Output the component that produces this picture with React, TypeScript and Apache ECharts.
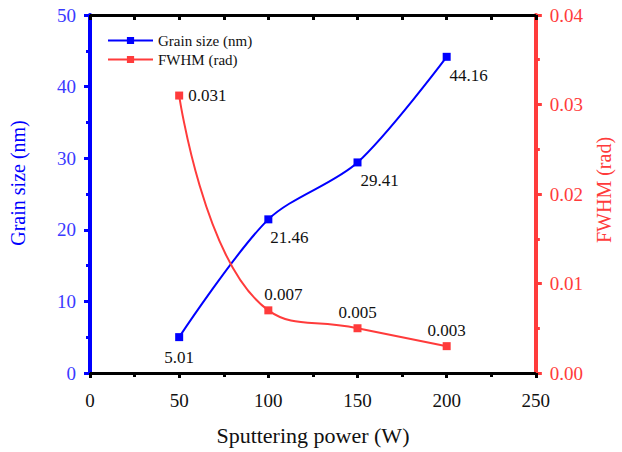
import React, { useEffect, useRef } from "react";
import * as echarts from "echarts";

const powers = [50, 100, 150, 200];
const grainSize = [5.01, 21.46, 29.41, 44.16];
const fwhm = [0.031, 0.007, 0.005, 0.003];
const grainLabels = ["5.01", "21.46", "29.41", "44.16"];
const fwhmLabels = ["0.031", "0.007", "0.005", "0.003"];

const FONT = "'Times New Roman', 'Liberation Serif', 'DejaVu Serif', serif";
const BLUE = "#0000ff";
const RED = "#ff3b3b";

export default function App() {
  const ref = useRef<HTMLDivElement>(null);
  useEffect(() => {
    if (!ref.current) return;
    const chart = echarts.init(ref.current, null, { renderer: "svg" });
    const grainOffsets: [number, number][] = [[0, 2], [21, 0], [22, 0], [22, 0]];
    const fwhmPos = ["right", "top", "top", "top"];
    const fwhmOffsets: [number, number][] = [[0, 0], [15, 0], [0, 0], [0, 0]];
    chart.setOption({
      animation: false,
      textStyle: { fontFamily: FONT },
      grid: { left: 86, right: 76, top: 15, bottom: 79, containLabel: false },
      legend: {
        left: 107,
        top: 33,
        padding: 0,
        orient: "vertical",
        itemWidth: 45,
        itemHeight: 9,
        itemGap: 4,
        textStyle: { fontFamily: FONT, fontSize: 15, color: "#111" },
        data: ["Grain size (nm)", "FWHM (rad)"],
      },
      xAxis: [
        {
          type: "value",
          min: 0,
          max: 250,
          interval: 50,
          position: "bottom",
          name: "Sputtering power (W)",
          nameLocation: "middle",
          nameGap: 51,
          nameTextStyle: { fontFamily: FONT, fontSize: 22, color: "#111" },
          axisLine: { show: true, onZero: false, lineStyle: { color: "#000", width: 3 } },
          axisTick: { show: true, inside: false, length: 5, lineStyle: { color: "#000", width: 3 } },
          minorTick: { show: true, splitNumber: 2, length: 4, lineStyle: { color: "#000", width: 3 } },
          axisLabel: { fontFamily: FONT, fontSize: 19, color: "#111", margin: 18 },
          splitLine: { show: false },
        },
        {
          type: "value",
          min: 0,
          max: 250,
          interval: 25,
          position: "top",
          axisLine: { show: true, onZero: false, lineStyle: { color: "#000", width: 3 } },
          axisTick: { show: true, inside: true, length: 5, lineStyle: { color: "#000", width: 3 } },
          axisLabel: { show: false },
          splitLine: { show: false },
        },
      ],
      yAxis: [
        {
          type: "value",
          min: 0,
          max: 50,
          interval: 10,
          position: "left",
          name: "Grain size (nm)",
          nameLocation: "middle",
          nameGap: 62,
          nameTextStyle: { fontFamily: FONT, fontSize: 20, color: BLUE, padding: [0, 0, 0, 22] },
          axisLine: { show: true, onZero: false, lineStyle: { color: BLUE, width: 4 } },
          axisTick: { show: true, inside: false, length: 6, lineStyle: { color: BLUE, width: 3 } },
          minorTick: { show: true, splitNumber: 2, length: 4, lineStyle: { color: BLUE, width: 3 } },
          axisLabel: { fontFamily: FONT, fontSize: 19, color: "#3a3aff", margin: 14 },
          splitLine: { show: false },
        },
        {
          type: "value",
          min: 0,
          max: 0.04,
          interval: 0.01,
          position: "right",
          name: "FWHM (rad)",
          nameLocation: "middle",
          nameGap: 57,
          nameRotate: 90,
          nameTextStyle: { fontFamily: FONT, fontSize: 20, color: RED, padding: [0, 0, 0, 8] },
          axisLine: { show: true, onZero: false, lineStyle: { color: RED, width: 4 } },
          axisTick: { show: true, inside: false, length: 6, lineStyle: { color: RED, width: 3 } },
          minorTick: { show: true, splitNumber: 2, length: 4, lineStyle: { color: RED, width: 3 } },
          axisLabel: {
            fontFamily: FONT,
            fontSize: 19,
            color: RED,
            margin: 14,
            formatter: (v: number) => v.toFixed(2),
          },
          splitLine: { show: false },
        },
      ],
      series: [
        {
          name: "Grain size (nm)",
          type: "line",
          xAxisIndex: 0,
          yAxisIndex: 0,
          smooth: 0.3,
          symbol: "rect",
          symbolSize: 8,
          itemStyle: { color: BLUE },
          lineStyle: { color: BLUE, width: 2 },
          data: powers.map((p, i) => ({
            value: [p, grainSize[i]],
            label: {
              show: true,
              position: "bottom",
              distance: 6,
              offset: grainOffsets[i],
              formatter: grainLabels[i],
              fontFamily: FONT,
              fontSize: 17,
              color: "#111",
            },
          })),
        },
        {
          name: "FWHM (rad)",
          type: "line",
          xAxisIndex: 0,
          yAxisIndex: 1,
          smooth: 0.5,
          symbol: "rect",
          symbolSize: 8,
          itemStyle: { color: RED },
          lineStyle: { color: RED, width: 2 },
          data: powers.map((p, i) => ({
            value: [p, fwhm[i]],
            label: {
              show: true,
              position: fwhmPos[i],
              distance: i === 0 ? 5 : 3,
              offset: fwhmOffsets[i],
              formatter: fwhmLabels[i],
              fontFamily: FONT,
              fontSize: 17,
              color: "#111",
            },
          })),
        },
      ],
    });
    return () => chart.dispose();
  }, []);
  return <div ref={ref} style={{ width: 622, height: 452, position: "absolute", left: 0, top: 0, background: "#fff" }} />;
}
